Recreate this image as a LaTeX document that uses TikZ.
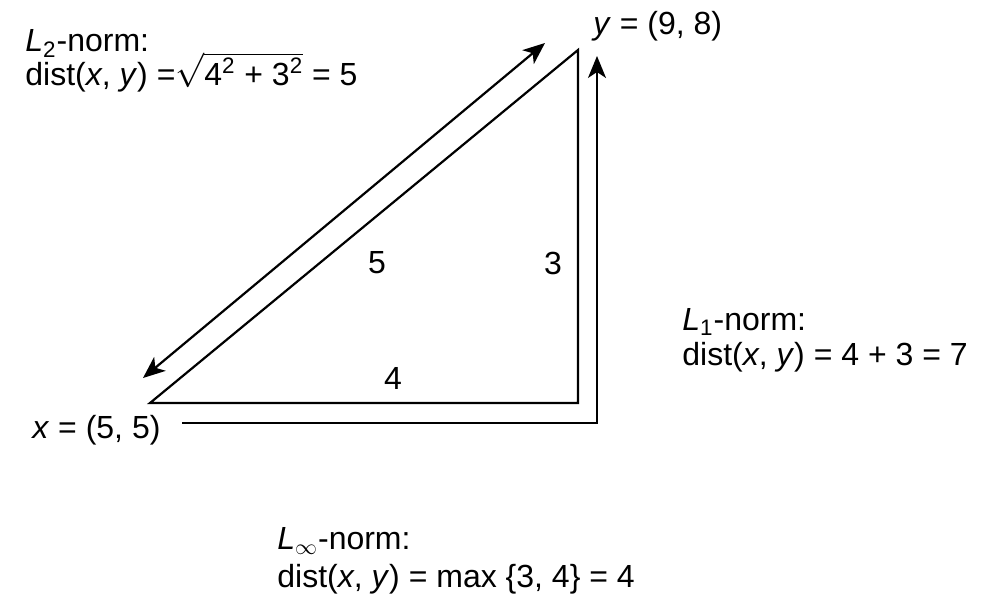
\documentclass[tikz,border=0pt]{standalone}
\usepackage{fontspec}
\setmainfont{Liberation Sans}
\usetikzlibrary{arrows.meta}
\begin{document}
\begin{tikzpicture}[x=0.5pt,y=-0.5pt,
  every node/.style={inner sep=0pt,font=\fontsize{16}{18}\selectfont},
  txt/.style={anchor=base west},
  tip/.tip={Stealth[length=11pt,width=9pt,inset=3pt]},
  edge/.style={line width=1.1pt},
  arr/.style={line width=1.1pt,-tip},
  darr/.style={line width=1.1pt,tip-tip}]
\useasboundingbox (0,0) rectangle (981,599);
% triangle
\coordinate (A) at (150,403);
\coordinate (B) at (578,403);
\coordinate (C) at (578,50);
\draw[edge,line join=miter] (A) -- (B) -- (C) -- cycle;
% L2 double arrow
\coordinate (D1) at (143,378);
\coordinate (D2) at (545,43);
\draw[darr] (D1) -- (D2);
% L1 path
\coordinate (P0) at (182,423);
\coordinate (P1) at (597,423);
\coordinate (P2) at (597,56);
\draw[arr,line join=miter] (P0) -- (P1) -- (P2);
% side labels
\node (s5) at (377,263) {5};
\node (s3) at (553,263) {3};
\node (s4) at (393,378) {4};
% point labels
\node[txt] (xl) at (32,438) {\textit{x} = (5, 5)};
\node[txt] (yl) at (593,35) {\textit{y} = (9, 8)};
% L2
\node[txt] (l2a) at (25,52) {\textit{L}\textsubscript{2}-norm:};
\node[txt] (l2b) at (25,86) {dist(\textit{x}, \textit{y}) =$\sqrt{\mbox{4\textsuperscript{2} + 3\textsuperscript{2}}}$ = 5};
% L1
\node[txt] (l1a) at (682,330) {\textit{L}\textsubscript{1}-norm:};
\node[txt] (l1b) at (682,365) {dist(\textit{x}, \textit{y}) = 4 + 3 = 7};
% Linf
\node[txt] (lia) at (277,549) {\textit{L}$_\infty$-norm:};
\node[txt] (lib) at (277,587) {dist(\textit{x}, \textit{y}) = max \{3, 4\} = 4};
\end{tikzpicture}
\end{document}
